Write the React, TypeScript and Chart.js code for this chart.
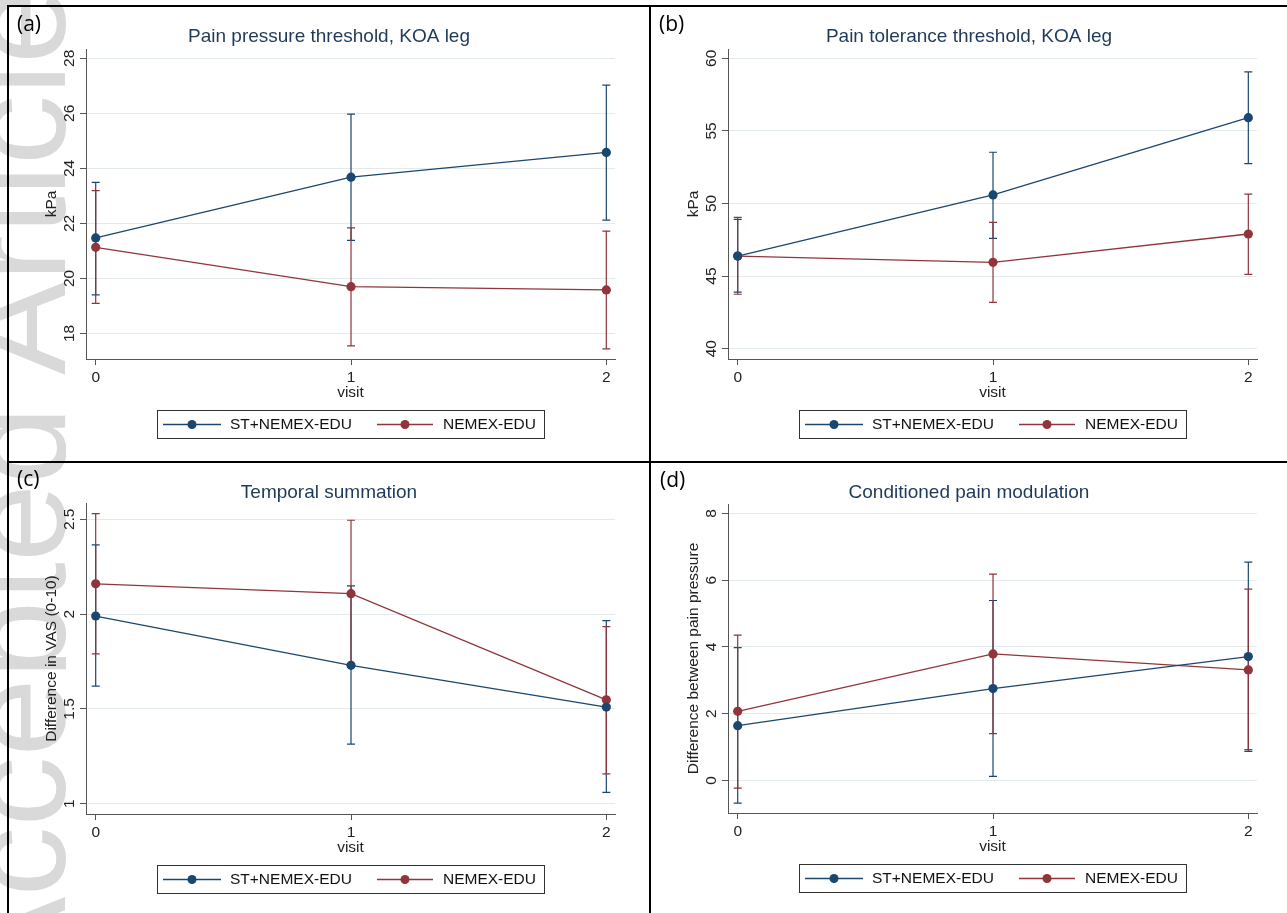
import React, { useEffect, useRef } from "react";
import { Chart, registerables } from "chart.js";

Chart.register(...registerables);

// ---------- shared data ----------
const visits = [0, 1, 2];
const xTickLabels = ["0", "1", "2"];
const xAxisTitle = "visit";
const seriesNames = ["ST+NEMEX-EDU", "NEMEX-EDU"];
const seriesColors = ["#1a476f", "#90353b"];

// ---------- panel (a) ----------
const aLabel = "(a)";
const aTitle = "Pain pressure threshold, KOA leg";
const aYTitle = "kPa";
const aYTicks = [18, 20, 22, 24, 26, 28];
const aYRange = [17.07, 28.34];
const aStMean = [21.47, 23.68, 24.58];
const aStLow = [19.4, 21.38, 22.12];
const aStHigh = [23.49, 25.97, 27.03];
const aNeMean = [21.13, 19.7, 19.58];
const aNeLow = [19.09, 17.55, 17.44];
const aNeHigh = [23.19, 21.84, 21.72];

// ---------- panel (b) ----------
const bLabel = "(b)";
const bTitle = "Pain tolerance threshold, KOA leg";
const bYTitle = "kPa";
const bYTicks = [40, 45, 50, 55, 60];
const bYRange = [39.29, 60.64];
const bStMean = [46.38, 50.59, 55.91];
const bStLow = [43.9, 47.6, 52.74];
const bStHigh = [48.9, 53.53, 59.06];
const bNeMean = [46.38, 45.95, 47.9];
const bNeLow = [43.75, 43.19, 45.12];
const bNeHigh = [49.05, 48.7, 50.65];

// ---------- panel (c) ----------
const cLabel = "(c)";
const cTitle = "Temporal summation";
const cYTitle = "Difference in VAS (0-10)";
const cYTicks = [1, 1.5, 2, 2.5];
const cYRange = [0.946, 2.586];
const cStMean = [1.99, 1.73, 1.51];
const cStLow = [1.62, 1.315, 1.06];
const cStHigh = [2.365, 2.149, 1.966];
const cNeMean = [2.16, 2.108, 1.548];
const cNeLow = [1.79, 1.72, 1.158];
const cNeHigh = [2.53, 2.495, 1.934];

// ---------- panel (d) ----------
const dLabel = "(d)";
const dTitle = "Conditioned pain modulation";
const dYTitle = "Difference between pain pressure";
const dYTicks = [0, 2, 4, 6, 8];
const dYRange = [-0.976, 8.28];
const dStMean = [1.64, 2.75, 3.71];
const dStLow = [-0.68, 0.12, 0.87];
const dStHigh = [3.98, 5.39, 6.54];
const dNeMean = [2.07, 3.79, 3.31];
const dNeLow = [-0.23, 1.4, 0.92];
const dNeHigh = [4.35, 6.18, 5.73];

const xRange = [-0.038, 2.034];

// ---------- layout (positions only) ----------
const W = 1287;
const H = 913;
const FONT = '"Liberation Sans", Arial, sans-serif';

type Panel = {
  label: string;
  title: string;
  yTitle: string;
  yTicks: number[];
  yRange: number[];
  means: number[][];
  lows: number[][];
  highs: number[][];
  box: { l: number; t: number; r: number; b: number };
  cx: number;
  titleY: number;
  labelX: number;
  labelY: number;
};

const panels: Panel[] = [
  {
    label: aLabel, title: aTitle, yTitle: aYTitle, yTicks: aYTicks, yRange: aYRange,
    means: [aStMean, aNeMean], lows: [aStLow, aNeLow], highs: [aStHigh, aNeHigh],
    box: { l: 86, t: 49, r: 615, b: 359 }, cx: 329, titleY: 42, labelX: 17, labelY: 31,
  },
  {
    label: bLabel, title: bTitle, yTitle: bYTitle, yTicks: bYTicks, yRange: bYRange,
    means: [bStMean, bNeMean], lows: [bStLow, bNeLow], highs: [bStHigh, bNeHigh],
    box: { l: 728, t: 49, r: 1257, b: 359 }, cx: 969, titleY: 42, labelX: 659, labelY: 31,
  },
  {
    label: cLabel, title: cTitle, yTitle: cYTitle, yTicks: cYTicks, yRange: cYRange,
    means: [cStMean, cNeMean], lows: [cStLow, cNeLow], highs: [cStHigh, cNeHigh],
    box: { l: 86, t: 503, r: 615, b: 814 }, cx: 329, titleY: 498, labelX: 17, labelY: 486,
  },
  {
    label: dLabel, title: dTitle, yTitle: dYTitle, yTicks: dYTicks, yRange: dYRange,
    means: [dStMean, dNeMean], lows: [dStLow, dNeLow], highs: [dStHigh, dNeHigh],
    box: { l: 728, t: 504, r: 1257, b: 813 }, cx: 969, titleY: 498, labelX: 660, labelY: 487,
  },
];

function fmt(v: number) {
  return String(v);
}

function makePlugin(p: Panel) {
  return {
    id: "panelDecor",
    beforeDatasetsDraw(chart: any) {
      const ctx = chart.ctx as CanvasRenderingContext2D;
      const xs = chart.scales.x;
      const ys = chart.scales.y;
      ctx.save();
      p.means.forEach((_, si) => {
        ctx.strokeStyle = seriesColors[si];
        ctx.lineWidth = 1.2;
        visits.forEach((v, j) => {
          const x = xs.getPixelForValue(v);
          const y1 = ys.getPixelForValue(p.lows[si][j]);
          const y2 = ys.getPixelForValue(p.highs[si][j]);
          ctx.beginPath();
          ctx.moveTo(x, y1);
          ctx.lineTo(x, y2);
          ctx.moveTo(x - 4, y1);
          ctx.lineTo(x + 4, y1);
          ctx.moveTo(x - 4, y2);
          ctx.lineTo(x + 4, y2);
          ctx.stroke();
        });
      });
      ctx.restore();
    },
    afterDraw(chart: any) {
      const ctx = chart.ctx as CanvasRenderingContext2D;
      const xs = chart.scales.x;
      const ys = chart.scales.y;
      const { l, t, r, b } = p.box;
      ctx.save();
      // title
      ctx.fillStyle = "#1e3a5a";
      ctx.font = `19px ${FONT}`;
      ctx.textAlign = "center";
      ctx.textBaseline = "alphabetic";
      ctx.fillText(p.title, p.cx, p.titleY);
      // panel label
      ctx.fillStyle = "#000";
      ctx.font = `21px "Open Sans", sans-serif`;
      ctx.textAlign = "left";
      ctx.fillText(p.label, p.labelX, p.labelY);
      // y tick labels
      ctx.fillStyle = "#222";
      ctx.font = `15.5px ${FONT}`;
      ctx.textAlign = "center";
      ctx.textBaseline = "middle";
      p.yTicks.forEach((v) => {
        const y = ys.getPixelForValue(v);
        ctx.save();
        ctx.translate(l - 16, y);
        ctx.rotate(-Math.PI / 2);
        ctx.fillText(fmt(v), 0, 0);
        ctx.restore();
      });
      // y title
      ctx.save();
      ctx.translate(l - 34, (t + b) / 2);
      ctx.rotate(-Math.PI / 2);
      ctx.fillText(p.yTitle, 0, 0);
      ctx.restore();
      // x tick labels
      visits.forEach((v, j) => {
        ctx.fillText(xTickLabels[j], xs.getPixelForValue(v), b + 19);
      });
      ctx.fillText(xAxisTitle, (l + r) / 2, b + 34);
      // legend
      const lw = 387;
      const lh = 28;
      const lx = Math.round((l + r) / 2 - lw / 2);
      const ly = b + 51;
      ctx.fillStyle = "#fff";
      ctx.fillRect(lx, ly, lw, lh);
      ctx.strokeStyle = "#333";
      ctx.lineWidth = 1;
      ctx.strokeRect(lx + 0.5, ly + 0.5, lw, lh);
      const my = ly + lh / 2 + 0.5;
      const items = [
        { x0: 6, x1: 64, m: 35, tx: 73 },
        { x0: 220, x1: 276, m: 248, tx: 286 },
      ];
      items.forEach((it, i) => {
        ctx.strokeStyle = seriesColors[i];
        ctx.lineWidth = 1.3;
        ctx.beginPath();
        ctx.moveTo(lx + it.x0, my);
        ctx.lineTo(lx + it.x1, my);
        ctx.stroke();
        ctx.fillStyle = seriesColors[i];
        ctx.beginPath();
        ctx.arc(lx + it.m, my, 4.5, 0, Math.PI * 2);
        ctx.fill();
        ctx.fillStyle = "#111";
        ctx.textAlign = "left";
        ctx.font = `15.5px ${FONT}`;
        ctx.fillText(seriesNames[i], lx + it.tx, my);
      });
      ctx.restore();
    },
  };
}

function PanelChart({ p }: { p: Panel }) {
  const ref = useRef<HTMLCanvasElement | null>(null);
  useEffect(() => {
    if (!ref.current) return;
    const chart = new Chart(ref.current, {
      type: "line",
      data: {
        datasets: p.means.map((m, si) => ({
          label: seriesNames[si],
          data: visits.map((v, j) => ({ x: v, y: m[j] })),
          borderColor: seriesColors[si],
          backgroundColor: seriesColors[si],
          pointBackgroundColor: seriesColors[si],
          pointBorderColor: seriesColors[si],
          pointBorderWidth: 0,
          pointRadius: 4.6,
          borderWidth: 1.3,
          tension: 0,
          fill: false,
        })),
      },
      options: {
        responsive: false,
        animation: false,
        devicePixelRatio: 1,
        layout: {
          padding: { left: p.box.l, top: p.box.t, right: W - p.box.r, bottom: H - p.box.b },
        },
        plugins: {
          legend: { display: false },
          title: { display: false },
          tooltip: { enabled: false },
        },
        scales: {
          x: {
            type: "linear",
            min: xRange[0],
            max: xRange[1],
            afterFit: (s: any) => {
              s.height = 0;
            },
            afterBuildTicks: (s: any) => {
              s.ticks = visits.map((v) => ({ value: v }));
            },
            ticks: { display: false },
            grid: {
              drawOnChartArea: false,
              drawTicks: true,
              tickLength: 6,
              tickColor: "#555",
              tickWidth: 1,
            },
            border: { display: true, color: "#555", width: 1 },
          },
          y: {
            type: "linear",
            min: p.yRange[0],
            max: p.yRange[1],
            afterFit: (s: any) => {
              s.width = 0;
            },
            afterBuildTicks: (s: any) => {
              s.ticks = p.yTicks.map((v) => ({ value: v }));
            },
            ticks: { display: false },
            grid: {
              color: "#e2eaec",
              lineWidth: 1,
              drawTicks: true,
              tickLength: 6,
              tickColor: "#555",
              tickWidth: 1,
            },
            border: { display: true, color: "#555", width: 1 },
          },
        },
      } as any,
      plugins: [makePlugin(p)],
    });
    return () => chart.destroy();
  }, [p]);
  return (
    <canvas
      ref={ref}
      width={W}
      height={H}
      style={{ position: "absolute", left: 0, top: 0, width: W, height: H }}
    />
  );
}

export default function App() {
  const line = (s: React.CSSProperties) => (
    <div style={{ position: "absolute", background: "#000", ...s }} />
  );
  return (
    <div
      style={{
        position: "absolute",
        left: 0,
        top: 0,
        width: W,
        height: H,
        overflow: "hidden",
        background: "#fff",
      }}
    >
      {/* watermark */}
      <div style={{ position: "absolute", left: 0, top: 0, width: 66, height: H, overflow: "hidden" }}>
        <div
          style={{
            position: "absolute",
            left: 65 - 118,
            top: 990,
            whiteSpace: "nowrap",
            fontFamily: FONT,
            fontSize: 140,
            lineHeight: "140px",
            color: "#d9d9d9",
            transform: "rotate(-90deg)",
            transformOrigin: "0 0",
          }}
        >
          Accepted Article
        </div>
      </div>
      {panels.map((p, i) => (
        <PanelChart key={i} p={p} />
      ))}
      {line({ left: 7, top: 5, width: W - 7, height: 2 })}
      {line({ left: 7, top: 5, width: 2, height: H - 5 })}
      {line({ left: 649, top: 5, width: 2, height: H - 5 })}
      {line({ left: 7, top: 461, width: W - 7, height: 2 })}
    </div>
  );
}
